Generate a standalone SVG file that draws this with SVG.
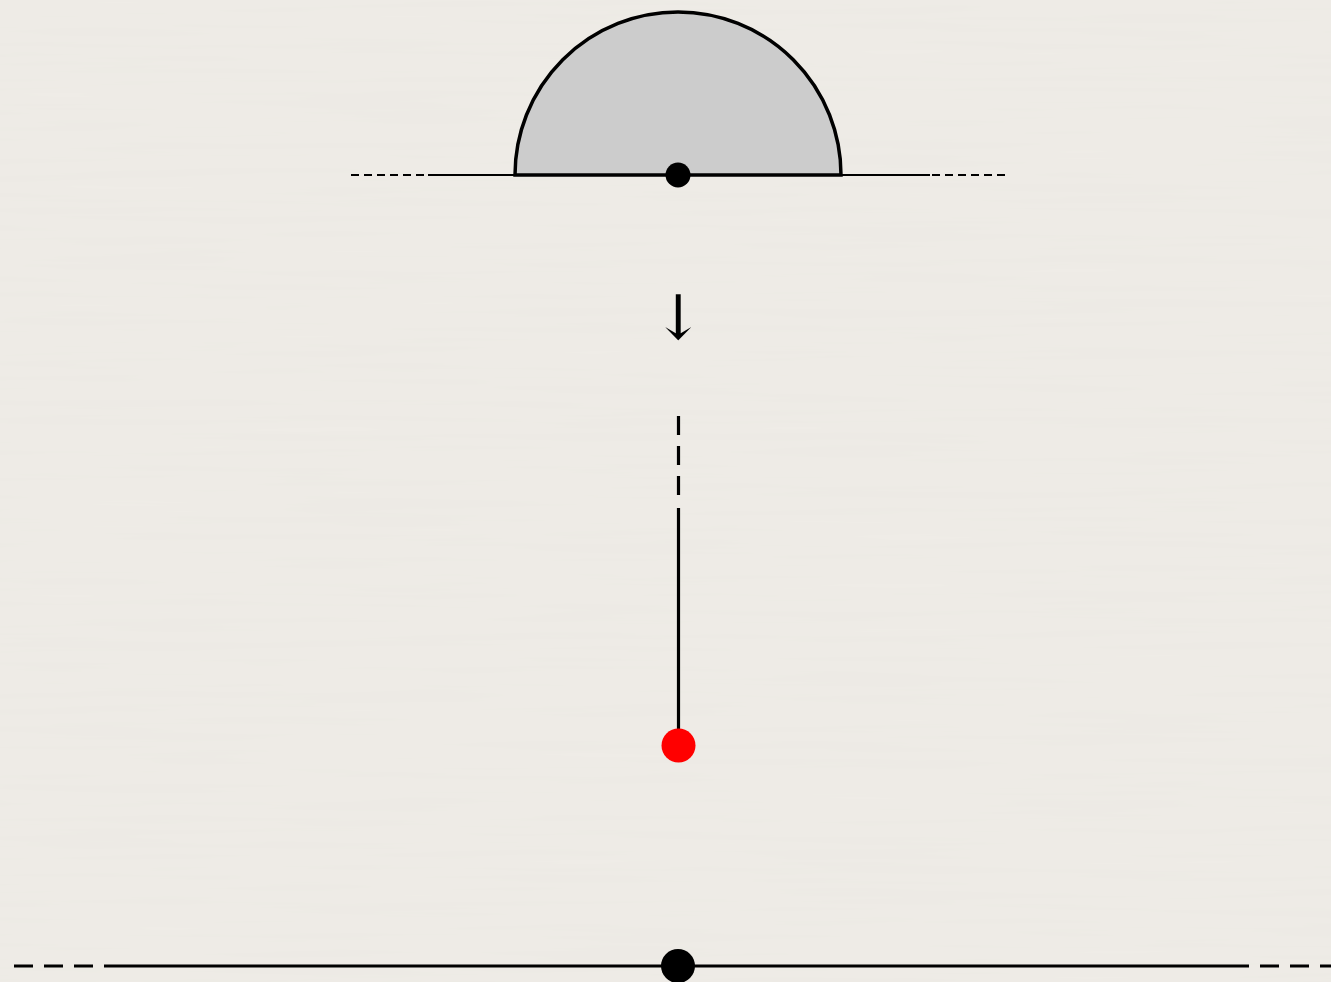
<svg xmlns="http://www.w3.org/2000/svg" width="1331" height="982" viewBox="0 0 1331 982">
<defs>
<filter id="paper" x="0" y="0" width="100%" height="100%">
<feTurbulence type="fractalNoise" baseFrequency="0.004 0.12" numOctaves="3" seed="4" result="n"/>
<feColorMatrix in="n" type="matrix" values="0 0 0 0 0.55  0 0 0 0 0.55  0 0 0 0 0.5  0 0 0 0.06 0"/>
</filter>
<style>
.ln{stroke:#000;fill:none}
.thin{stroke-width:2}
.thick{stroke-width:3.2}
.dash1{stroke-dasharray:8 5}
.dash2{stroke-dasharray:19 11}
</style>
</defs>
<rect width="1331" height="982" fill="#EFECE7"/>
<rect width="1331" height="982" filter="url(#paper)"/>
<g id="connectors">
<line class="ln thin dash1" x1="351" y1="175" x2="428" y2="175"/>
<line class="ln thin" x1="428" y1="175" x2="930" y2="175"/>
<line class="ln thin dash1" x1="932" y1="175" x2="1005" y2="175"/>
<line class="ln thick dash2" x1="678.5" y1="416" x2="678.5" y2="500"/>
<line class="ln thick" x1="678.5" y1="508" x2="678.5" y2="745"/>
<line class="ln thick dash2" x1="14" y1="966" x2="105" y2="966"/>
<line class="ln thick" x1="105" y1="966" x2="1230" y2="966"/>
<line class="ln thick dash2" x1="1230" y1="966" x2="1331" y2="966"/>
</g>
<g id="dome">
<path d="M515,175 A163,163 0 0 1 841,175 Z" fill="#CCCCCC" stroke="#000" stroke-width="3.5"/>
</g>
<g id="top-point"><circle cx="678" cy="175" r="12.5" fill="#000"/></g>
<g id="arrow"><text x="678.5" y="339" text-anchor="middle" font-family="DejaVu Serif, serif" font-size="62">↓</text></g>
<g id="red-point"><circle cx="678.5" cy="745.5" r="17" fill="#FF0000"/></g>
<g id="bottom-point"><circle cx="678" cy="966" r="17" fill="#000"/></g>
</svg>
